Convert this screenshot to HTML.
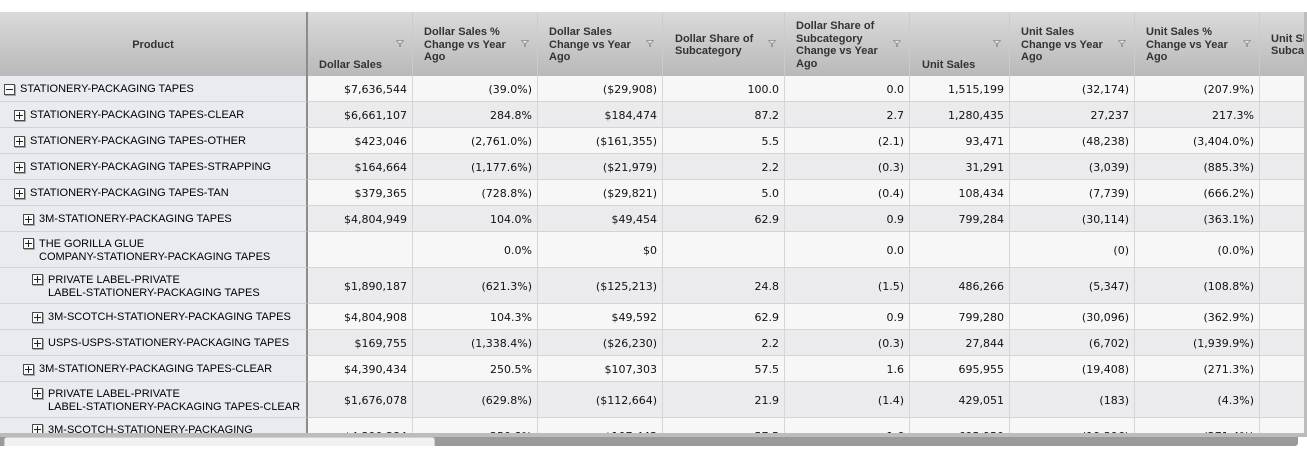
<!DOCTYPE html>
<html><head><meta charset="utf-8">
<style>
html,body{margin:0;padding:0;background:#fff;}
body{width:1307px;height:460px;position:relative;overflow:hidden;}
#clip{position:absolute;left:0;top:0;width:1304px;height:433px;overflow:hidden;}
#vstrip{position:absolute;left:1304px;top:12px;width:3px;height:421px;background:#bdbdbd;}
.hd{position:absolute;left:0;top:12px;width:1304px;height:64px;background:linear-gradient(#dadada,#b9b9b9);}
.h{position:absolute;top:0;height:64px;box-sizing:border-box;border-right:1px solid #cbcbcb;font:bold 11px "Liberation Sans",Arial,sans-serif;color:#333;}
.h .tx{position:absolute;left:11px;top:1px;height:64px;display:flex;align-items:center;line-height:12.5px;white-space:nowrap;}
.h .tb{position:absolute;left:11px;bottom:5px;line-height:12.5px;white-space:nowrap;}
.h svg{position:absolute;top:28px;}
.r{position:absolute;left:0;width:1304px;}
.L .c{background:#f7f7f7;}
.D .c{background:#ebebed;}
.c{position:absolute;top:0;height:100%;box-sizing:border-box;border-right:1px solid #d6d6d6;border-bottom:1px solid #d4d4d4;font:11px "DejaVu Sans",Verdana,sans-serif;color:#111;display:flex;align-items:center;justify-content:flex-end;padding-right:5px;padding-top:1px;white-space:nowrap;}
.p{position:absolute;left:0;top:0;width:308px;height:100%;box-sizing:border-box;background:#e8ebef;border-right:2px solid #8c8c8c;border-bottom:1px solid #d0d3d7;font:11px "Liberation Sans",Arial,sans-serif;color:#000;}
.p .t{position:absolute;top:0;white-space:nowrap;}
.s .p .t{line-height:27px;}
.w .p .t{top:6px;line-height:13px;}
.ic{position:absolute;width:9px;height:9px;border:1px solid #4a4a4a;background:#fafafa;box-shadow:1px 1px 0 #a8a8a8;}
.ic::before{content:"";position:absolute;left:1px;top:4px;width:7px;height:1px;background:#222;}
.ic.pl::after{content:"";position:absolute;left:4px;top:1px;width:1px;height:7px;background:#222;}
.s .ic{top:8px;}
.w .ic{top:6px;}
.c1{left:308px;width:105px;}
.c2{left:413px;width:125px;}
.c3{left:538px;width:125px;}
.c4{left:663px;width:122px;}
.c5{left:785px;width:125px;}
.c6{left:910px;width:100px;}
.c7{left:1010px;width:125px;}
.c8{left:1135px;width:125px;}
.c9{left:1260px;width:60px;}
#sb1{position:absolute;left:0;top:433px;width:1307px;height:4px;background:#bcbcbc;}
#sb2{position:absolute;left:0;top:437px;width:1298px;height:9px;background:#9a9a9a;border-radius:0 0 3px 0;}
#thumb{position:absolute;left:4px;top:437px;width:431px;height:9px;background:#f1f1f1;border-radius:3px 3px 0 0;box-sizing:border-box;border:1px solid #d0d0d0;border-bottom:none;}
</style></head><body>
<div id="clip">
<div class="hd">
  <div class="h" style="left:0;width:308px;border-right:2px solid #8c8c8c;"><div style="position:absolute;left:0;width:306px;top:1px;height:64px;line-height:64px;text-align:center;">Product</div></div>
  <div class="h c1" style="position:absolute"><div class="tb">Dollar Sales</div><svg style="left:88px" width="8" height="7"><polygon points="0.5,0.5 7.5,0.5 4.5,3.5 4.5,6.5 3.5,6.5 3.5,3.5" fill="#ececec" stroke="#9a9a9a" stroke-width="1"/></svg></div>
  <div class="h c2"><div class="tx">Dollar Sales %<br>Change vs Year<br>Ago</div><svg style="left:108px" width="8" height="7"><polygon points="0.5,0.5 7.5,0.5 4.5,3.5 4.5,6.5 3.5,6.5 3.5,3.5" fill="#ececec" stroke="#9a9a9a"/></svg></div>
  <div class="h c3"><div class="tx">Dollar Sales<br>Change vs Year<br>Ago</div><svg style="left:108px" width="8" height="7"><polygon points="0.5,0.5 7.5,0.5 4.5,3.5 4.5,6.5 3.5,6.5 3.5,3.5" fill="#ececec" stroke="#9a9a9a"/></svg></div>
  <div class="h c4"><div class="tx" style="left:12px">Dollar Share of<br>Subcategory</div><svg style="left:105px" width="8" height="7"><polygon points="0.5,0.5 7.5,0.5 4.5,3.5 4.5,6.5 3.5,6.5 3.5,3.5" fill="#ececec" stroke="#9a9a9a"/></svg></div>
  <div class="h c5"><div class="tx">Dollar Share of<br>Subcategory<br>Change vs Year<br>Ago</div><svg style="left:108px" width="8" height="7"><polygon points="0.5,0.5 7.5,0.5 4.5,3.5 4.5,6.5 3.5,6.5 3.5,3.5" fill="#ececec" stroke="#9a9a9a"/></svg></div>
  <div class="h c6"><div class="tb" style="left:12px">Unit Sales</div><svg style="left:83px" width="8" height="7"><polygon points="0.5,0.5 7.5,0.5 4.5,3.5 4.5,6.5 3.5,6.5 3.5,3.5" fill="#ececec" stroke="#9a9a9a"/></svg></div>
  <div class="h c7"><div class="tx">Unit Sales<br>Change vs Year<br>Ago</div><svg style="left:108px" width="8" height="7"><polygon points="0.5,0.5 7.5,0.5 4.5,3.5 4.5,6.5 3.5,6.5 3.5,3.5" fill="#ececec" stroke="#9a9a9a"/></svg></div>
  <div class="h c8"><div class="tx">Unit Sales %<br>Change vs Year<br>Ago</div><svg style="left:108px" width="8" height="7"><polygon points="0.5,0.5 7.5,0.5 4.5,3.5 4.5,6.5 3.5,6.5 3.5,3.5" fill="#ececec" stroke="#9a9a9a"/></svg></div>
  <div class="h c9"><div class="tx">Unit Share of<br>Subcategory</div></div>
</div>

<div class="r s L" style="top:76px;height:26px"><div class="p"><i class="ic" style="left:4px"></i><span class="t" style="left:20px">STATIONERY-PACKAGING TAPES</span></div>
<div class="c c1">$7,636,544</div><div class="c c2">(39.0%)</div><div class="c c3">($29,908)</div><div class="c c4">100.0</div><div class="c c5">0.0</div><div class="c c6">1,515,199</div><div class="c c7">(32,174)</div><div class="c c8">(207.9%)</div><div class="c c9"></div></div>

<div class="r s D" style="top:102px;height:26px"><div class="p"><i class="ic pl" style="left:14px"></i><span class="t" style="left:30px">STATIONERY-PACKAGING TAPES-CLEAR</span></div>
<div class="c c1">$6,661,107</div><div class="c c2">284.8%</div><div class="c c3">$184,474</div><div class="c c4">87.2</div><div class="c c5">2.7</div><div class="c c6">1,280,435</div><div class="c c7">27,237</div><div class="c c8">217.3%</div><div class="c c9"></div></div>

<div class="r s L" style="top:128px;height:26px"><div class="p"><i class="ic pl" style="left:14px"></i><span class="t" style="left:30px">STATIONERY-PACKAGING TAPES-OTHER</span></div>
<div class="c c1">$423,046</div><div class="c c2">(2,761.0%)</div><div class="c c3">($161,355)</div><div class="c c4">5.5</div><div class="c c5">(2.1)</div><div class="c c6">93,471</div><div class="c c7">(48,238)</div><div class="c c8">(3,404.0%)</div><div class="c c9"></div></div>

<div class="r s D" style="top:154px;height:26px"><div class="p"><i class="ic pl" style="left:14px"></i><span class="t" style="left:30px">STATIONERY-PACKAGING TAPES-STRAPPING</span></div>
<div class="c c1">$164,664</div><div class="c c2">(1,177.6%)</div><div class="c c3">($21,979)</div><div class="c c4">2.2</div><div class="c c5">(0.3)</div><div class="c c6">31,291</div><div class="c c7">(3,039)</div><div class="c c8">(885.3%)</div><div class="c c9"></div></div>

<div class="r s L" style="top:180px;height:26px"><div class="p"><i class="ic pl" style="left:14px"></i><span class="t" style="left:30px">STATIONERY-PACKAGING TAPES-TAN</span></div>
<div class="c c1">$379,365</div><div class="c c2">(728.8%)</div><div class="c c3">($29,821)</div><div class="c c4">5.0</div><div class="c c5">(0.4)</div><div class="c c6">108,434</div><div class="c c7">(7,739)</div><div class="c c8">(666.2%)</div><div class="c c9"></div></div>

<div class="r s D" style="top:206px;height:26px"><div class="p"><i class="ic pl" style="left:23px"></i><span class="t" style="left:39px">3M-STATIONERY-PACKAGING TAPES</span></div>
<div class="c c1">$4,804,949</div><div class="c c2">104.0%</div><div class="c c3">$49,454</div><div class="c c4">62.9</div><div class="c c5">0.9</div><div class="c c6">799,284</div><div class="c c7">(30,114)</div><div class="c c8">(363.1%)</div><div class="c c9"></div></div>

<div class="r w L" style="top:232px;height:36px"><div class="p"><i class="ic pl" style="left:23px"></i><span class="t" style="left:39px">THE GORILLA GLUE<br>COMPANY-STATIONERY-PACKAGING TAPES</span></div>
<div class="c c1"></div><div class="c c2">0.0%</div><div class="c c3">$0</div><div class="c c4"></div><div class="c c5">0.0</div><div class="c c6"></div><div class="c c7">(0)</div><div class="c c8">(0.0%)</div><div class="c c9"></div></div>

<div class="r w D" style="top:268px;height:36px"><div class="p"><i class="ic pl" style="left:32px"></i><span class="t" style="left:48px">PRIVATE LABEL-PRIVATE<br>LABEL-STATIONERY-PACKAGING TAPES</span></div>
<div class="c c1">$1,890,187</div><div class="c c2">(621.3%)</div><div class="c c3">($125,213)</div><div class="c c4">24.8</div><div class="c c5">(1.5)</div><div class="c c6">486,266</div><div class="c c7">(5,347)</div><div class="c c8">(108.8%)</div><div class="c c9"></div></div>

<div class="r s L" style="top:304px;height:26px"><div class="p"><i class="ic pl" style="left:32px"></i><span class="t" style="left:48px">3M-SCOTCH-STATIONERY-PACKAGING TAPES</span></div>
<div class="c c1">$4,804,908</div><div class="c c2">104.3%</div><div class="c c3">$49,592</div><div class="c c4">62.9</div><div class="c c5">0.9</div><div class="c c6">799,280</div><div class="c c7">(30,096)</div><div class="c c8">(362.9%)</div><div class="c c9"></div></div>

<div class="r s D" style="top:330px;height:26px"><div class="p"><i class="ic pl" style="left:32px"></i><span class="t" style="left:48px">USPS-USPS-STATIONERY-PACKAGING TAPES</span></div>
<div class="c c1">$169,755</div><div class="c c2">(1,338.4%)</div><div class="c c3">($26,230)</div><div class="c c4">2.2</div><div class="c c5">(0.3)</div><div class="c c6">27,844</div><div class="c c7">(6,702)</div><div class="c c8">(1,939.9%)</div><div class="c c9"></div></div>

<div class="r s L" style="top:356px;height:26px"><div class="p"><i class="ic pl" style="left:23px"></i><span class="t" style="left:39px">3M-STATIONERY-PACKAGING TAPES-CLEAR</span></div>
<div class="c c1">$4,390,434</div><div class="c c2">250.5%</div><div class="c c3">$107,303</div><div class="c c4">57.5</div><div class="c c5">1.6</div><div class="c c6">695,955</div><div class="c c7">(19,408)</div><div class="c c8">(271.3%)</div><div class="c c9"></div></div>

<div class="r w D" style="top:382px;height:36px"><div class="p"><i class="ic pl" style="left:32px"></i><span class="t" style="left:48px">PRIVATE LABEL-PRIVATE<br>LABEL-STATIONERY-PACKAGING TAPES-CLEAR</span></div>
<div class="c c1">$1,676,078</div><div class="c c2">(629.8%)</div><div class="c c3">($112,664)</div><div class="c c4">21.9</div><div class="c c5">(1.4)</div><div class="c c6">429,051</div><div class="c c7">(183)</div><div class="c c8">(4.3%)</div><div class="c c9"></div></div>

<div class="r w L" style="top:418px;height:36px"><div class="p"><i class="ic pl" style="left:32px"></i><span class="t" style="left:48px">3M-SCOTCH-STATIONERY-PACKAGING<br>TAPES-CLEAR</span></div>
<div class="c c1">$4,390,384</div><div class="c c2">250.8%</div><div class="c c3">$107,443</div><div class="c c4">57.5</div><div class="c c5">1.6</div><div class="c c6">695,950</div><div class="c c7">(19,396)</div><div class="c c8">(271.4%)</div><div class="c c9"></div></div>
</div>
<div id="vstrip"></div>
<div id="sb1"></div>
<div id="sb2"></div>
<div id="thumb"></div>
</body></html>
